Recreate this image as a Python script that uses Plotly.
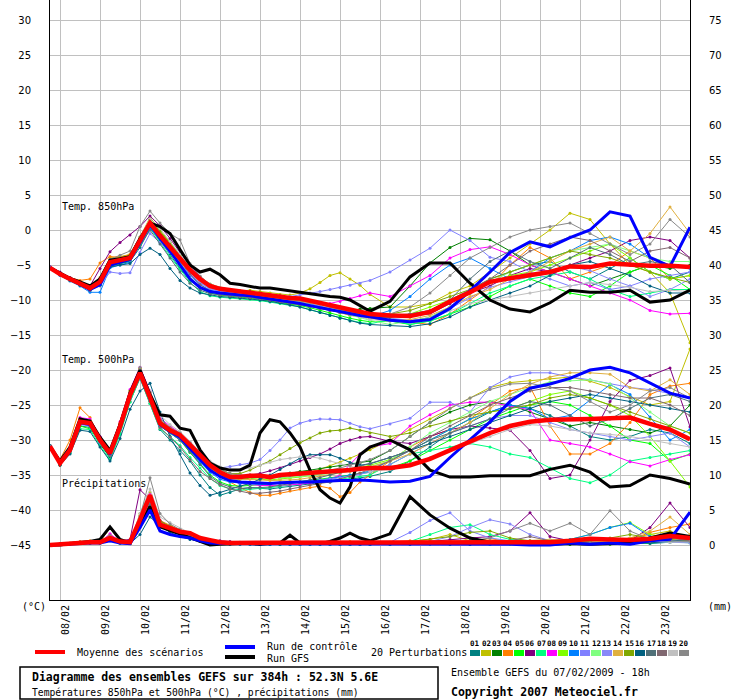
import datetime as dt
import plotly.graph_objects as go

# time axis: 6-hourly to 192h, then 12-hourly to 384h
start = dt.datetime(2009, 2, 7, 18)
hours = list(range(0, 193, 6)) + list(range(204, 385, 12))
day_labels = ['08/02', '09/02', '10/02', '11/02', '12/02', '13/02', '14/02', '15/02',
              '16/02', '17/02', '18/02', '19/02', '20/02', '21/02', '22/02', '23/02']

pert_colors = ['#008080', '#C0C000', '#008000', '#FF8000', '#00FF00', '#800080',
               '#00FF80', '#FF00FF', '#80FF00', '#0080FF', '#8080FF', '#80FF80',
               '#8888F8', '#E0B040', '#80A800', '#006080', '#507078', '#806870',
               '#C0C0C0', '#888888']

# ---- Temp 850hPa (degC)
t850_mean = [-5.4,-6.3,-7.0,-7.6,-8.3,-7.4,-4.6,-4.3,-4.0, -1.5,1.0,-0.8,-2.4,-4.0, -5.7,-7.0,-8.0,-8.4,-8.6,-8.8,-8.9,-9.1,-9.3,-9.5,-9.7,-9.8,-10.1,-10.4,-10.8,-11.1,-11.4,-11.7,-12.0, -12.2,-12.3,-11.7,-10.2,-8.9,-7.4,-6.9,-6.4,-6.0,-5.2,-5.3,-4.8,-5.0,-5.1,-5.1,-5.3]
t850_ctrl = [-5.4,-6.3,-7.0,-7.7,-8.5,-7.8,-5.0,-4.6,-4.2, -1.8,0.8,-1.2,-3.0,-5.0, -7.0,-8.2,-8.8,-9.0,-9.2,-9.3,-9.4,-9.6,-9.8,-10.0,-10.2,-10.5,-10.8,-11.1,-11.4,-11.7,-12.0,-12.2,-12.4, -12.9,-13.1,-12.8,-11.2,-8.7,-6.0,-3.2,-1.7,-2.4,-1.1,0.0,2.6,2.0,-3.9,-5.2,0.4]
t850_gfs = [-5.4,-6.2,-6.9,-7.4,-8.0,-7.0,-4.3,-4.1,-3.8, -1.2,1.0,0.5,-0.5,-2.8, -5.0,-6.0,-5.6,-6.4,-7.6,-7.8,-8.0,-8.3,-8.3,-8.5,-8.8,-9.0,-9.2,-9.3,-9.5,-9.6,-10.0,-10.8,-11.6, -10.2,-6.7,-4.7,-4.7,-7.6,-10.0,-11.3,-11.7,-10.4,-8.6,-8.9,-8.9,-8.6,-10.3,-10.0,-8.6]
t850_01 = [-5.3,-6.2,-7.1,-7.8,-8.5,-7.8,-5.2,-4.8,-4.5, -2.5,0.2,-1.5,-3.5,-5.5, -7.2,-8.2,-8.8,-9.0,-9.2,-9.3,-9.4,-9.6,-9.8,-10.0,-10.3,-10.6,-10.9,-11.2,-11.5,-11.8,-12.0,-12.3,-12.5, -12.8,-13.0,-12.5,-11.0,-9.0,-7.0,-6.0,-5.0,-4.5,-6.0,-7.0,-5.5,-4.0,-6.0,-7.0,-6.0]
t850_02 = [-5.4,-6.4,-7.0,-7.5,-8.0,-6.8,-4.0,-3.8,-3.5, -1.0,1.8,0.0,-1.8,-3.5, -5.5,-6.8,-7.8,-8.3,-8.5,-8.7,-8.6,-8.8,-9.0,-9.2,-9.3,-9.0,-8.4,-7.5,-6.5,-6.1,-7.0,-7.9,-9.2, -11.0,-11.0,-10.5,-9.0,-8.0,-6.0,-4.0,-2.0,0.0,2.4,1.5,-2.0,-5.0,-6.0,-9.0,-16.1]
t850_03 = [-5.5,-6.3,-6.9,-7.6,-8.2,-7.2,-4.4,-4.0,-3.6, -1.2,1.4,-0.5,-2.0,-3.8, -5.6,-7.1,-8.2,-8.6,-8.8,-9.0,-9.2,-9.4,-9.6,-9.8,-10.0,-10.0,-10.2,-10.5,-10.8,-11.2,-11.5,-11.3,-11.2, -11.0,-8.0,-4.7,-2.5,-1.2,-1.4,-3.0,-5.0,-6.0,-7.0,-8.0,-7.0,-6.0,-5.0,-5.5,-5.0]
t850_04 = [-5.3,-6.1,-6.8,-7.2,-7.0,-4.7,-3.8,-3.9,-3.5, -1.0,1.2,-0.6,-2.5,-4.2, -6.0,-7.4,-8.2,-8.6,-8.9,-9.1,-9.3,-9.5,-9.7,-9.9,-10.2,-10.4,-10.7,-11.0,-11.4,-11.8,-12.2,-12.4,-12.6, -12.8,-13.2,-13.5,-12.0,-10.0,-8.0,-5.0,-2.5,-4.0,-7.0,-6.0,-5.0,-3.0,-4.0,-7.0,-6.5]
t850_05 = [-5.5,-6.4,-7.2,-7.9,-8.6,-7.9,-5.0,-4.8,-4.4, -2.0,0.6,-1.0,-3.0,-5.0, -7.0,-8.3,-9.0,-9.3,-9.5,-9.6,-9.7,-9.9,-10.1,-10.3,-10.5,-10.8,-11.1,-11.5,-11.9,-12.3,-12.6,-12.9,-13.1, -13.0,-13.5,-13.0,-12.0,-11.0,-9.5,-8.0,-7.0,-8.0,-9.0,-9.5,-8.0,-6.0,-5.0,-6.5,-8.5]
t850_06 = [-5.2,-6.0,-6.8,-7.4,-8.0,-5.5,-3.1,-1.8,-0.7, 0.5,2.0,0.6,-1.2,-3.2, -5.0,-6.6,-7.8,-8.3,-8.5,-8.7,-8.8,-9.0,-9.2,-9.4,-9.6,-9.9,-10.2,-10.6,-11.0,-11.4,-11.7,-12.0,-12.1, -12.0,-12.2,-12.0,-10.5,-9.0,-8.0,-6.5,-5.5,-6.0,-5.0,-4.0,-3.0,-1.5,-1.0,-1.5,-4.0]
t850_07 = [-5.4,-6.3,-7.1,-7.7,-8.4,-7.6,-4.8,-4.5,-4.2, -2.0,0.4,-1.8,-3.8,-5.6, -7.5,-8.8,-9.4,-9.6,-9.7,-9.8,-9.9,-10.1,-10.3,-10.5,-10.7,-11.0,-11.4,-11.8,-12.2,-12.6,-12.9,-13.2,-13.4, -12.8,-13.5,-13.0,-12.0,-10.5,-9.0,-8.0,-7.0,-6.5,-6.0,-7.0,-8.5,-9.5,-9.0,-8.5,-8.5]
t850_08 = [-5.3,-6.2,-6.9,-7.5,-8.1,-6.9,-4.2,-4.1,-3.8, -1.3,1.1,-0.4,-2.2,-3.9, -5.8,-7.1,-8.0,-8.4,-8.6,-8.8,-9.0,-9.2,-9.5,-9.7,-9.9,-10.1,-10.4,-10.6,-10.5,-10.2,-9.8,-9.4,-9.0, -9.5,-8.0,-6.5,-4.0,-2.8,-2.4,-3.5,-5.0,-6.0,-7.0,-8.0,-9.0,-10.0,-11.5,-12.0,-11.9]
t850_09 = [-5.4,-6.3,-7.0,-7.6,-8.3,-7.3,-4.5,-4.2,-3.9, -1.4,1.3,-0.2,-1.8,-3.6, -5.4,-6.7,-7.7,-8.2,-8.5,-8.7,-8.9,-9.1,-9.3,-9.5,-9.7,-9.9,-10.3,-10.7,-11.1,-11.5,-11.9,-12.2,-12.4, -12.5,-12.0,-11.0,-10.0,-9.0,-7.5,-6.5,-6.0,-5.0,-4.0,-3.0,-2.0,-4.0,-6.0,-7.0,-6.5]
t850_10 = [-5.5,-6.5,-7.3,-8.0,-8.9,-8.9,-5.4,-5.0,-4.6, -2.0,0.3,-1.3,-3.0,-4.8, -6.5,-7.8,-8.6,-9.0,-9.2,-9.3,-9.4,-9.5,-9.6,-9.8,-10.0,-10.3,-10.6,-11.0,-11.3,-11.6,-11.9,-12.2,-12.4, -11.5,-9.5,-7.0,-5.0,-4.0,-5.5,-7.0,-6.0,-4.0,-3.0,-1.5,-1.0,-2.0,-4.0,-5.0,-5.5]
t850_11 = [-5.4,-6.4,-7.2,-7.8,-8.5,-8.0,-6.0,-6.2,-6.1, -3.2,-0.5,-1.8,-3.2,-4.8, -6.4,-7.6,-8.4,-8.8,-9.0,-9.2,-9.3,-9.4,-9.5,-9.6,-9.5,-9.3,-9.0,-8.8,-8.5,-8.2,-7.9,-7.6,-7.2, -6.0,-4.3,-2.6,0.0,-1.5,-3.9,-4.5,-6.0,-7.0,-8.0,-7.5,-8.5,-8.0,-7.0,-6.5,-6.0]
t850_12 = [-5.4,-6.2,-6.9,-7.5,-8.2,-7.1,-4.3,-4.0,-3.7, -1.0,1.5,-0.3,-2.0,-3.6, -5.3,-6.8,-7.9,-8.5,-8.8,-9.0,-9.2,-9.4,-9.6,-9.8,-10.0,-10.3,-10.6,-11.0,-11.4,-11.8,-12.2,-12.6,-12.9, -13.5,-13.0,-12.5,-11.0,-9.0,-7.5,-6.0,-5.0,-4.0,-3.0,-2.5,-2.0,-3.0,-4.0,-4.5,-4.5]
t850_13 = [-5.3,-6.3,-7.1,-7.7,-8.4,-7.5,-4.9,-4.6,-4.3, -1.8,0.8,-1.0,-2.6,-4.3, -6.2,-7.5,-8.4,-8.7,-8.9,-9.0,-9.1,-9.3,-9.5,-9.7,-9.9,-10.2,-10.5,-10.9,-11.3,-11.7,-12.0,-12.3,-12.5, -12.6,-12.9,-12.7,-11.2,-9.8,-8.2,-7.4,-6.7,-6.0,-5.2,-5.8,-7.0,-8.0,-9.5,-8.5,-7.0]
t850_14 = [-5.4,-6.3,-7.0,-7.6,-8.2,-7.2,-4.5,-4.2,-3.9, -1.3,1.2,-0.5,-2.2,-3.9, -5.7,-7.0,-8.0,-8.5,-8.7,-8.9,-9.1,-9.3,-9.5,-9.7,-9.9,-10.1,-10.4,-10.7,-11.1,-11.5,-11.9,-12.3,-12.6, -13.0,-12.8,-12.2,-11.0,-9.5,-8.5,-7.0,-6.0,-4.5,-3.0,-2.0,-1.0,-3.0,-0.5,3.3,-0.5]
t850_15 = [-5.4,-6.2,-6.9,-7.5,-8.1,-7.0,-4.3,-4.0,-3.7, -1.2,1.5,-0.2,-1.9,-3.6, -5.4,-6.8,-7.8,-8.3,-8.6,-8.8,-9.0,-9.2,-9.4,-9.6,-9.8,-10.0,-10.3,-10.6,-10.9,-11.2,-11.5,-11.8,-12.0, -12.0,-11.5,-10.5,-9.5,-8.5,-7.0,-6.0,-5.0,-4.0,-3.0,-3.5,-4.0,-5.0,-6.0,-6.8,-7.5]
t850_16 = [-5.5,-6.4,-7.2,-7.9,-8.6,-7.9,-5.3,-5.0,-4.8, -3.5,-2.6,-3.5,-5.5,-7.2, -8.3,-9.0,-9.3,-9.5,-9.6,-9.7,-9.8,-10.0,-10.2,-10.4,-10.7,-11.0,-11.4,-11.8,-12.2,-12.6,-13.0,-13.3,-13.5, -13.6,-13.8,-13.4,-12.4,-11.0,-10.0,-9.0,-8.0,-6.5,-5.0,-4.5,-5.5,-6.5,-8.0,-9.0,-9.0]
t850_17 = [-5.4,-6.3,-7.1,-7.7,-8.4,-7.6,-4.9,-4.6,-4.3, -2.2,0.0,-2.0,-4.0,-6.0, -7.6,-8.6,-9.1,-9.3,-9.4,-9.5,-9.6,-9.8,-10.0,-10.2,-10.4,-10.6,-10.9,-11.2,-11.5,-11.8,-12.0,-12.3,-12.5, -12.5,-12.0,-11.5,-10.0,-7.0,-4.5,-3.0,-4.5,-5.5,-4.0,-2.5,-3.5,-5.0,-4.5,-5.0,-7.5]
t850_18 = [-5.3,-6.2,-7.0,-7.7,-8.6,-7.7,-4.8,-4.4,-4.1, -1.6,0.9,-0.8,-2.5,-4.5, -6.3,-7.8,-8.7,-9.2,-9.4,-9.5,-9.6,-9.8,-10.0,-10.2,-10.4,-10.6,-10.9,-11.2,-11.5,-11.8,-12.1,-12.3,-12.4, -12.2,-12.0,-11.5,-10.0,-8.5,-7.0,-5.0,-3.0,-2.0,-1.0,-1.5,-3.0,-4.5,-3.0,-2.5,-4.0]
t850_19 = [-5.4,-6.3,-7.0,-7.6,-8.3,-7.3,-4.4,-4.2,-3.9, -1.0,1.6,0.2,-1.6,-3.4, -5.3,-6.7,-7.7,-8.2,-8.5,-8.7,-8.9,-9.1,-9.3,-9.5,-9.7,-10.0,-10.3,-10.7,-11.1,-11.6,-12.0,-12.4,-12.8, -13.0,-13.2,-12.6,-11.5,-10.5,-10.0,-9.5,-9.0,-8.5,-8.0,-7.5,-7.8,-8.2,-8.8,-8.6,-8.8]
t850_20 = [-5.4,-6.3,-7.0,-7.5,-8.1,-7.0,-4.2,-3.6,-3.0, 0.5,2.7,1.0,-0.5,-1.4, -4.8,-6.6,-7.8,-8.3,-8.6,-8.8,-9.0,-9.2,-9.4,-9.6,-9.8,-10.0,-10.3,-10.6,-11.0,-11.4,-11.8,-12.1,-12.3, -12.0,-11.0,-9.0,-6.5,-4.0,-2.5,-1.0,0.0,0.5,1.0,-0.5,-2.0,-3.5,-2.0,1.5,-1.0]

# ---- Temp 500hPa (degC)
t500_mean = [-30.9,-33.3,-31.4,-27.4,-27.6,-30.0,-31.9,-28.1,-23.6, -20.4,-23.9,-27.6,-28.6,-29.3, -30.7,-32.1,-33.6,-34.6,-35.3,-35.3,-35.1,-35.1,-35.3,-35.0,-34.9,-34.8,-34.8,-34.7,-34.6,-34.5,-34.3,-34.1,-34.0, -34.0,-33.6,-32.7,-31.5,-30.2,-29.0,-28.0,-27.4,-27.1,-27.1,-27.0,-26.9,-26.8,-27.7,-28.5,-29.9]
t500_ctrl = [-30.9,-33.3,-31.4,-27.5,-27.8,-30.1,-32.0,-28.2,-23.7, -20.5,-24.0,-27.8,-28.8,-29.6, -31.2,-32.8,-34.3,-35.2,-35.8,-36.0,-36.1,-36.2,-36.2,-36.1,-36.0,-36.0,-36.0,-35.9,-35.9,-35.8,-35.8,-35.7,-35.8, -36.0,-35.9,-35.2,-32.5,-30.0,-27.4,-24.5,-22.6,-22.0,-21.2,-20.0,-19.6,-20.4,-21.8,-23.3,-24.0]
t500_gfs = [-30.9,-33.0,-31.0,-27.0,-27.3,-29.6,-31.5,-27.8,-23.3, -20.0,-23.5,-26.4,-26.6,-28.3, -28.6,-31.4,-33.3,-34.0,-34.3,-34.3,-33.6,-29.0,-27.1,-27.4,-29.0,-31.0,-34.3,-37.1,-38.3,-39.0,-36.7,-32.1,-31.0, -30.0,-31.4,-34.3,-35.3,-35.3,-35.1,-35.1,-35.1,-34.2,-33.6,-34.6,-36.7,-36.5,-35.0,-35.5,-36.3]
t500_01 = [-30.8,-33.5,-31.8,-28.0,-28.2,-30.5,-32.6,-29.0,-24.5, -21.2,-24.8,-28.5,-30.0,-31.5, -33.0,-35.0,-36.8,-37.9,-37.5,-37.0,-36.8,-36.9,-37.0,-36.8,-36.6,-36.4,-36.3,-36.1,-36.0,-35.8,-35.6,-35.4,-35.2, -34.5,-33.0,-31.0,-29.0,-27.5,-26.0,-25.0,-25.5,-26.5,-28.0,-29.5,-30.0,-29.5,-28.5,-29.0,-30.5]
t500_02 = [-30.9,-33.2,-31.2,-27.0,-27.2,-29.8,-31.6,-27.6,-23.0, -19.8,-23.2,-27.0,-28.2,-29.0, -30.4,-31.8,-33.2,-34.2,-34.8,-35.0,-35.1,-35.2,-35.3,-35.4,-35.3,-35.0,-34.6,-34.2,-33.7,-33.2,-32.6,-32.0,-31.4, -30.0,-28.5,-27.0,-25.5,-24.0,-22.5,-21.8,-21.5,-21.2,-21.0,-21.6,-22.5,-23.8,-25.0,-24.5,-17.0]
t500_03 = [-30.9,-33.0,-31.3,-27.4,-28.0,-30.6,-32.4,-28.4,-23.8, -20.5,-24.2,-28.0,-28.9,-29.8, -31.5,-33.0,-34.4,-35.0,-35.5,-35.6,-35.5,-35.4,-35.2,-35.0,-34.7,-34.5,-34.3,-34.1,-33.9,-33.7,-33.5,-33.3,-33.0, -31.5,-29.5,-27.5,-26.0,-25.0,-24.5,-25.0,-26.0,-27.0,-28.0,-27.5,-28.0,-28.5,-29.0,-28.0,-25.0]
t500_04 = [-30.8,-32.8,-30.0,-25.4,-26.8,-29.6,-31.5,-27.5,-23.2, -20.2,-23.6,-27.3,-28.4,-29.2, -30.6,-32.2,-33.8,-35.0,-36.0,-36.8,-37.5,-37.9,-37.9,-37.6,-37.3,-37.0,-36.8,-36.6,-36.9,-38.1,-37.5,-36.0,-35.0, -33.0,-31.0,-29.5,-28.5,-27.0,-25.0,-23.0,-22.4,-28.0,-32.0,-32.0,-30.5,-27.5,-23.5,-22.3,-21.9]
t500_05 = [-31.0,-33.4,-31.5,-28.0,-28.4,-30.2,-32.2,-28.4,-23.9, -20.8,-24.4,-28.0,-29.0,-30.0, -31.8,-33.4,-35.0,-36.0,-36.5,-36.6,-36.5,-36.4,-36.3,-36.2,-36.1,-36.0,-35.8,-35.6,-35.4,-35.2,-35.0,-34.8,-34.6, -34.0,-33.0,-31.5,-30.0,-28.5,-27.0,-26.0,-25.0,-24.5,-25.0,-26.5,-28.0,-30.0,-30.5,-33.0,-32.0]
t500_06 = [-30.9,-33.1,-31.2,-27.2,-27.4,-29.6,-31.5,-27.8,-23.3, -20.1,-23.5,-27.2,-28.5,-29.4, -30.8,-32.2,-33.6,-34.5,-35.0,-35.2,-35.0,-34.8,-34.4,-34.0,-33.5,-33.0,-32.5,-32.0,-31.3,-30.5,-30.0,-29.6,-29.5, -30.2,-30.5,-29.5,-28.5,-28.0,-28.3,-28.6,-31.5,-35.5,-35.0,-30.0,-24.5,-21.5,-20.8,-19.7,-28.1]
t500_07 = [-30.9,-33.6,-31.9,-28.4,-28.5,-30.8,-32.8,-29.2,-24.6, -21.0,-24.8,-28.4,-29.5,-30.8, -32.5,-34.0,-35.5,-36.5,-37.0,-37.2,-37.0,-36.9,-36.8,-36.6,-36.4,-36.2,-36.1,-36.0,-35.8,-35.6,-35.4,-35.2,-35.0, -33.5,-32.0,-31.5,-31.0,-30.5,-31.0,-32.0,-32.5,-34.0,-35.5,-36.1,-35.0,-33.0,-32.5,-32.0,-31.5]
t500_08 = [-31.0,-33.2,-31.0,-26.8,-27.0,-29.5,-31.4,-27.4,-22.8, -19.6,-23.0,-26.9,-28.0,-29.0, -30.4,-32.0,-33.7,-35.0,-35.8,-36.2,-36.4,-36.5,-36.5,-36.5,-36.4,-36.3,-36.2,-36.0,-35.6,-35.0,-33.5,-32.0,-31.0, -30.5,-28.0,-26.4,-25.0,-24.6,-24.6,-25.2,-25.7,-30.0,-30.5,-31.0,-32.0,-33.1,-33.7,-32.8,-32.1]
t500_09 = [-30.9,-33.4,-31.6,-27.6,-27.8,-30.1,-32.0,-28.2,-23.7, -20.4,-24.0,-27.8,-28.8,-29.6, -31.0,-32.5,-34.0,-34.9,-35.4,-35.5,-35.5,-35.6,-35.7,-35.6,-35.5,-35.3,-35.1,-34.9,-34.7,-34.5,-34.2,-33.9,-33.6, -32.8,-31.5,-30.0,-28.5,-27.0,-26.0,-25.5,-24.5,-23.5,-23.0,-24.0,-25.0,-26.5,-29.5,-33.0,-36.7]
t500_10 = [-31.0,-33.3,-31.4,-27.6,-27.9,-30.4,-32.3,-28.5,-24.0, -20.8,-24.3,-28.0,-29.0,-30.0, -31.6,-33.2,-34.6,-35.6,-36.0,-36.2,-36.3,-36.3,-36.3,-36.2,-36.1,-36.0,-35.8,-35.7,-35.5,-35.3,-35.0,-34.8,-34.4, -33.0,-31.5,-30.0,-28.5,-27.0,-26.0,-25.0,-25.5,-27.0,-26.5,-24.3,-22.1,-23.5,-26.7,-30.0,-28.5]
t500_11 = [-30.8,-33.3,-31.5,-27.8,-28.0,-30.2,-32.0,-28.3,-23.8, -20.6,-24.1,-27.8,-28.8,-29.8, -31.0,-32.4,-33.5,-34.0,-33.8,-33.5,-33.3,-32.8,-31.5,-30.0,-28.3,-27.6,-27.2,-27.0,-27.0,-27.1,-27.6,-28.1,-28.4, -27.7,-26.9,-24.6,-24.6,-26.0,-22.5,-21.0,-20.4,-20.4,-21.0,-21.4,-22.0,-22.5,-22.8,-23.3,-23.9]
t500_12 = [-30.9,-33.2,-31.3,-27.3,-27.5,-29.9,-31.8,-28.0,-23.5, -20.3,-23.8,-27.5,-28.5,-29.2, -30.6,-32.0,-33.4,-34.4,-35.0,-35.2,-35.2,-35.3,-35.4,-35.4,-35.3,-35.2,-35.1,-35.0,-34.8,-34.6,-34.4,-34.1,-33.8, -33.0,-31.0,-29.0,-27.5,-26.0,-24.5,-23.5,-22.5,-21.7,-21.5,-21.4,-22.0,-24.0,-26.0,-28.0,-29.0]
t500_13 = [-31.0,-33.4,-31.6,-27.7,-27.9,-30.3,-32.1,-28.4,-23.9, -20.6,-24.2,-27.9,-28.9,-29.7, -31.3,-32.8,-34.3,-35.3,-35.8,-36.0,-36.0,-36.1,-36.2,-36.2,-36.1,-36.0,-35.9,-35.8,-35.6,-35.4,-35.2,-34.9,-34.6, -33.5,-32.0,-30.5,-29.0,-28.0,-27.0,-26.5,-26.5,-27.5,-28.5,-29.0,-29.5,-30.0,-29.5,-29.0,-31.0]
t500_14 = [-30.9,-33.3,-31.4,-27.3,-27.6,-30.0,-31.9,-28.1,-23.6, -20.3,-23.9,-27.6,-28.6,-29.4, -30.8,-32.2,-33.7,-34.7,-35.4,-35.6,-35.6,-35.7,-35.8,-35.8,-35.7,-35.6,-35.4,-35.2,-35.0,-34.8,-34.5,-34.2,-33.9, -33.0,-32.0,-30.5,-29.0,-27.5,-25.5,-23.5,-22.0,-21.0,-20.4,-20.4,-20.6,-22.5,-23.0,-21.4,-23.5]
t500_15 = [-30.9,-33.2,-31.1,-27.0,-27.3,-29.7,-31.7,-27.8,-23.0, -19.8,-23.5,-27.3,-28.3,-29.1, -30.5,-31.9,-33.3,-34.2,-34.8,-34.8,-34.3,-33.6,-33.0,-32.1,-31.2,-30.4,-29.7,-29.0,-28.7,-28.6,-28.3,-28.6,-29.0, -29.5,-29.0,-28.0,-27.3,-26.5,-26.0,-25.5,-25.0,-24.0,-23.5,-24.0,-25.0,-26.0,-27.0,-28.0,-29.0]
t500_16 = [-30.8,-33.6,-32.0,-28.6,-28.8,-31.0,-33.0,-29.8,-25.6, -23.0,-21.9,-26.0,-29.5,-32.0, -34.7,-36.5,-37.9,-37.5,-37.0,-36.6,-36.2,-35.6,-35.0,-34.2,-33.4,-32.6,-32.1,-32.1,-32.1,-32.6,-33.2,-33.6,-33.4, -32.5,-31.5,-30.5,-29.5,-28.5,-27.5,-26.5,-25.5,-24.5,-24.0,-23.5,-24.0,-24.5,-25.0,-25.5,-26.0]
t500_17 = [-30.9,-33.3,-31.5,-27.5,-27.7,-30.1,-32.1,-28.3,-23.8, -20.5,-24.1,-27.8,-28.9,-30.0, -31.7,-33.5,-35.2,-36.2,-36.7,-36.9,-36.9,-36.8,-36.7,-36.5,-36.3,-36.0,-35.7,-35.4,-35.0,-34.6,-34.2,-33.8,-33.4, -32.5,-31.5,-30.0,-29.0,-28.0,-27.0,-25.5,-24.5,-25.0,-26.5,-28.0,-27.0,-25.5,-24.0,-23.5,-24.5]
t500_18 = [-30.9,-33.4,-31.6,-27.7,-27.8,-30.2,-32.2,-28.4,-24.0, -20.8,-24.5,-28.2,-29.6,-31.0, -32.8,-34.5,-35.5,-36.4,-37.0,-37.3,-37.6,-37.6,-37.5,-37.3,-37.0,-36.7,-36.4,-36.2,-36.0,-35.6,-35.2,-34.7,-34.2, -33.0,-31.5,-29.5,-28.0,-26.5,-25.0,-24.0,-23.0,-22.5,-22.5,-23.0,-23.5,-24.0,-24.0,-25.0,-26.5]
t500_19 = [-30.9,-33.2,-31.3,-27.3,-27.5,-29.9,-31.8,-28.0,-23.4, -20.0,-23.0,-26.4,-27.8,-28.8, -30.2,-31.7,-33.0,-33.8,-34.2,-34.2,-34.0,-33.6,-33.2,-32.8,-32.6,-32.4,-32.4,-32.6,-33.0,-33.4,-33.8,-34.2,-34.5, -34.2,-33.5,-32.5,-31.5,-30.5,-29.5,-28.5,-27.8,-28.0,-28.5,-29.0,-29.2,-29.5,-30.0,-30.5,-31.0]
t500_20 = [-30.9,-33.3,-31.3,-27.2,-27.4,-29.8,-31.7,-27.8,-23.2, -19.6,-23.2,-27.0,-28.2,-29.0, -30.4,-31.8,-33.2,-34.2,-34.8,-35.0,-35.0,-35.1,-35.2,-35.2,-35.1,-35.0,-34.8,-34.6,-34.3,-34.0,-33.6,-33.2,-32.8, -31.5,-29.5,-27.5,-25.5,-24.0,-22.8,-22.0,-21.9,-22.5,-23.0,-24.5,-26.0,-25.0,-23.0,-22.5,-24.0]

# ---- Precipitation (mm)
prec_mean = [0.0,0.1,0.2,0.4,0.4,0.4,1.0,0.5,0.4, 3.6,7.1,2.9,2.4,1.9, 1.7,1.0,0.7,0.4,0.3,0.3,0.3,0.3,0.3,0.3,0.3,0.3,0.3,0.3,0.3,0.3,0.3,0.3,0.3, 0.3,0.3,0.3,0.3,0.3,0.3,0.3,0.4,0.4,0.6,0.9,0.8,0.7,0.9,1.3,1.0]
prec_ctrl = [0.0,0.1,0.2,0.3,0.3,0.3,0.6,0.3,0.2, 2.5,5.0,2.0,1.5,1.2, 1.0,0.6,0.3,0.2,0.2,0.2,0.2,0.1,0.1,0.1,0.1,0.1,0.1,0.1,0.1,0.1,0.1,0.1,0.1, 0.1,0.1,0.1,0.1,0.1,0.2,0.1,0.0,0.0,0.3,0.1,0.3,0.1,0.6,0.8,4.7]
prec_gfs = [0.0,0.0,0.2,0.3,0.5,0.8,2.6,0.8,0.3, 2.8,5.5,2.6,2.1,1.6, 1.0,0.5,0.0,0.1,0.2,0.2,0.2,0.1,0.2,0.3,1.4,0.3,0.2,0.2,0.5,1.0,1.7,1.0,0.6, 1.6,6.9,4.3,2.4,1.0,0.4,0.2,0.1,0.1,0.2,0.1,0.2,0.3,1.0,1.7,1.2]
prec_01 = [0.0,0.1,0.2,0.3,0.4,0.3,0.8,0.3,0.2, 3.0,5.5,3.2,2.2,1.6, 1.2,0.8,0.5,0.3,0.2,0.2,0.1,0.1,0.1,0.1,0.1,0.1,0.1,0.1,0.1,0.1,0.1,0.1,0.1, 0.1,0.1,0.1,0.2,0.1,0.1,0.2,0.1,0.2,0.1,0.2,0.3,0.5,0.2,0.4,0.6]
prec_02 = [0.0,0.1,0.2,0.4,0.5,0.5,1.5,0.5,0.3, 4.5,7.5,3.0,2.5,2.0, 1.8,1.0,0.5,0.3,0.2,0.3,0.2,0.2,0.2,0.2,0.3,0.2,0.2,0.3,0.3,0.4,0.5,0.3,0.2, 0.3,0.5,0.8,1.5,0.6,0.3,0.2,0.3,0.5,0.2,0.3,0.5,1.0,1.5,2.0,1.0]
prec_03 = [0.0,0.1,0.1,0.3,0.3,0.4,1.2,0.4,0.2, 3.5,6.5,2.6,2.0,1.8, 1.5,0.8,0.4,0.2,0.2,0.2,0.2,0.1,0.1,0.1,0.1,0.1,0.2,0.2,0.1,0.1,0.1,0.1,0.1, 0.2,0.3,0.2,0.1,0.1,0.2,0.3,0.2,0.1,0.1,0.2,0.1,0.2,0.3,0.6,0.4]
prec_04 = [0.0,0.2,0.3,0.5,0.6,0.5,2.4,0.6,0.4, 4.0,7.0,3.5,2.8,2.2, 1.6,0.9,0.6,0.4,0.3,0.3,0.2,0.2,0.2,0.2,0.2,0.2,0.2,0.2,0.2,0.2,0.2,0.2,0.2, 0.4,0.6,0.5,0.3,0.6,0.9,0.5,0.4,0.3,0.5,0.4,0.3,0.7,1.8,2.5,3.0]
prec_05 = [0.0,0.1,0.2,0.3,0.3,0.3,0.9,0.3,0.3, 3.2,6.0,3.0,2.2,1.6, 1.3,0.8,0.4,0.2,0.1,0.1,0.1,0.1,0.1,0.1,0.1,0.1,0.1,0.1,0.1,0.1,0.1,0.1,0.1, 0.1,0.2,0.3,0.4,0.2,0.1,0.1,0.2,0.3,0.4,0.3,0.2,0.3,0.5,0.4,0.5]
prec_06 = [0.0,0.1,0.2,0.4,0.4,0.5,1.0,0.6,0.8, 7.9,6.5,3.5,2.5,1.9, 1.4,0.9,0.7,0.6,0.5,0.4,0.3,0.3,0.2,0.2,0.2,0.2,0.2,0.2,0.3,0.3,0.3,0.3,0.3, 0.3,0.3,0.5,0.8,1.0,1.2,2.0,4.6,1.2,0.6,0.4,0.3,0.6,2.5,6.0,2.5]
prec_07 = [0.0,0.1,0.2,0.3,0.3,0.3,0.7,0.3,0.3, 3.0,6.0,3.2,2.6,2.0, 1.5,0.9,0.5,0.3,0.2,0.2,0.2,0.2,0.2,0.2,0.2,0.2,0.2,0.2,0.2,0.2,0.2,0.2,0.2, 0.3,0.5,1.5,2.5,2.9,1.5,0.8,0.5,0.3,0.3,0.2,0.3,0.4,0.3,0.5,0.6]
prec_08 = [0.0,0.1,0.2,0.4,0.4,0.4,1.6,0.5,0.4, 4.0,7.2,3.0,2.4,1.8, 1.4,0.8,0.5,0.3,0.2,0.2,0.2,0.2,0.2,0.2,0.2,0.2,0.2,0.2,0.2,0.2,0.2,0.2,0.2, 0.2,0.2,0.3,0.4,0.3,0.2,0.4,0.6,0.4,0.3,0.2,0.2,0.3,0.4,0.5,0.9]
prec_09 = [0.0,0.1,0.2,0.3,0.4,0.4,1.0,0.4,0.3, 3.5,6.8,2.8,2.2,1.7, 1.3,0.8,0.5,0.3,0.2,0.2,0.2,0.2,0.2,0.2,0.2,0.2,0.2,0.2,0.2,0.2,0.2,0.2,0.2, 0.2,0.3,0.4,0.3,0.2,0.3,0.4,0.5,0.6,0.8,1.5,2.5,3.2,1.5,1.0,0.8]
prec_10 = [0.0,0.1,0.1,0.3,0.3,0.3,0.6,0.3,0.2, 2.5,5.2,2.8,2.0,1.5, 1.0,0.6,0.3,0.2,0.1,0.1,0.1,0.1,0.1,0.2,0.1,0.1,0.1,0.1,0.1,0.1,0.1,0.1,0.1, 0.1,0.2,0.3,0.2,0.2,0.1,0.2,0.3,0.5,0.8,1.5,2.5,3.1,1.2,0.6,0.4]
prec_11 = [0.0,0.1,0.2,0.3,0.3,0.3,0.8,0.3,0.3, 3.0,6.2,3.0,2.4,1.9, 1.5,0.9,0.6,0.4,0.3,0.3,0.3,0.3,0.3,0.3,0.3,0.3,0.3,0.2,0.2,0.2,0.2,0.2,0.2, 0.4,1.8,3.5,4.6,2.0,1.0,0.6,0.4,0.3,0.3,0.3,0.4,0.5,0.6,0.5,0.4]
prec_12 = [0.0,0.1,0.2,0.3,0.3,0.4,1.1,0.4,0.3, 3.8,6.6,3.0,2.4,1.8, 1.4,0.8,0.5,0.3,0.2,0.2,0.2,0.2,0.2,0.2,0.2,0.2,0.2,0.2,0.2,0.2,0.2,0.2,0.2, 0.2,0.3,0.3,0.3,0.2,0.3,0.4,0.5,0.4,0.6,0.3,0.4,0.8,0.6,0.5,0.3]
prec_13 = [0.0,0.1,0.2,0.3,0.4,0.4,0.9,0.4,0.3, 3.2,6.0,3.1,2.5,1.9, 1.5,0.9,0.5,0.3,0.2,0.2,0.2,0.2,0.2,0.2,0.2,0.2,0.2,0.2,0.2,0.2,0.2,0.2,0.2, 0.2,0.3,0.5,1.2,2.5,3.6,3.0,1.5,0.6,0.4,0.3,0.3,0.4,0.5,0.4,0.3]
prec_14 = [0.0,0.1,0.2,0.4,0.4,0.4,1.2,0.4,0.3, 3.6,6.4,3.2,2.6,2.0, 1.6,0.9,0.5,0.3,0.2,0.2,0.2,0.2,0.2,0.2,0.2,0.2,0.2,0.2,0.2,0.2,0.2,0.2,0.2, 0.2,0.2,0.3,0.2,0.3,0.4,0.5,0.6,0.8,0.5,0.4,0.6,1.0,2.0,4.0,1.5]
prec_15 = [0.0,0.1,0.2,0.4,0.5,0.5,1.3,0.5,0.4, 4.2,7.0,3.4,2.7,2.0, 1.6,1.0,0.6,0.4,0.3,0.3,0.3,0.3,0.3,0.3,0.3,0.3,0.3,0.3,0.3,0.3,0.3,0.3,0.3, 0.3,0.5,0.8,1.2,1.8,2.0,1.0,0.6,0.4,0.5,0.6,1.0,1.5,1.0,0.8,0.6]
prec_16 = [0.0,0.1,0.1,0.2,0.3,0.3,0.6,0.3,0.2, 1.5,4.0,2.8,1.8,1.2, 0.8,0.5,0.3,0.2,0.1,0.1,0.1,0.1,0.1,0.1,0.1,0.1,0.1,0.1,0.1,0.1,0.1,0.1,0.1, 0.1,0.1,0.2,0.1,0.1,0.2,0.2,0.3,0.2,0.3,0.2,0.3,0.4,0.3,0.6,0.8]
prec_17 = [0.0,0.1,0.2,0.3,0.3,0.3,0.8,0.3,0.3, 3.0,5.8,2.9,2.2,1.6, 1.2,0.7,0.4,0.2,0.2,0.2,0.2,0.2,0.2,0.2,0.2,0.2,0.2,0.2,0.2,0.2,0.2,0.2,0.2, 0.2,0.2,0.3,0.4,0.3,0.2,0.3,0.2,0.3,0.4,0.3,0.2,0.4,0.5,1.5,0.8]
prec_18 = [0.0,0.1,0.2,0.3,0.3,0.4,0.9,0.4,0.3, 3.4,6.2,3.0,2.3,1.7, 1.2,0.7,0.4,0.2,0.2,0.2,0.2,0.2,0.2,0.2,0.2,0.2,0.2,0.2,0.2,0.2,0.2,0.2,0.2, 0.2,0.3,0.4,0.5,0.4,0.3,0.6,1.2,0.6,0.4,0.3,0.4,0.5,0.8,1.0,0.6]
prec_19 = [0.0,0.1,0.2,0.4,0.4,0.5,1.3,0.5,0.4, 4.5,8.0,4.0,3.2,2.4, 1.7,1.0,0.6,0.4,0.3,0.3,0.3,0.3,0.3,0.3,0.3,0.3,0.3,0.3,0.3,0.3,0.3,0.3,0.3, 0.3,0.3,0.4,0.5,0.4,0.3,0.4,0.5,0.6,0.4,0.3,0.4,0.5,0.6,0.4,0.5]
prec_20 = [0.0,0.1,0.2,0.4,0.4,0.4,1.4,0.5,0.4, 4.0,9.6,4.5,3.0,2.2, 1.6,1.0,0.6,0.4,0.3,0.3,0.3,0.3,0.3,0.3,0.3,0.3,0.3,0.3,0.3,0.3,0.3,0.3,0.3, 0.3,0.3,0.4,0.5,0.6,1.0,2.0,3.1,2.0,3.1,1.5,4.9,2.0,0.8,0.6,0.5]

t850_perts = [t850_01, t850_02, t850_03, t850_04, t850_05, t850_06, t850_07, t850_08, t850_09, t850_10,
              t850_11, t850_12, t850_13, t850_14, t850_15, t850_16, t850_17, t850_18, t850_19, t850_20]
t500_perts = [t500_01, t500_02, t500_03, t500_04, t500_05, t500_06, t500_07, t500_08, t500_09, t500_10,
              t500_11, t500_12, t500_13, t500_14, t500_15, t500_16, t500_17, t500_18, t500_19, t500_20]
prec_perts = [prec_01, prec_02, prec_03, prec_04, prec_05, prec_06, prec_07, prec_08, prec_09, prec_10,
              prec_11, prec_12, prec_13, prec_14, prec_15, prec_16, prec_17, prec_18, prec_19, prec_20]

for s in t850_perts + t500_perts + prec_perts + [t850_mean, t850_ctrl, t850_gfs, t500_mean,
                                                 t500_ctrl, t500_gfs, prec_mean, prec_ctrl, prec_gfs]:
    assert len(s) == len(hours), len(s)

times = [start + dt.timedelta(hours=h) for h in hours]
day_ticks = [dt.datetime(2009, 2, 8) + dt.timedelta(days=d) for d in range(16)]

MONO = 'DejaVu Sans Mono'


def px(x):
    return (x - 50) / 640.0


def py(y):
    return 1 - y / 600.0


fig = go.Figure()

# perturbations first, then GFS, control and mean on top
for series_set, yax in [(t850_perts, 'y'), (t500_perts, 'y'), (prec_perts, 'y2')]:
    for vals, col in zip(series_set, pert_colors):
        fig.add_trace(go.Scatter(x=times, y=vals, yaxis=yax, mode='lines+markers',
                                 line={'color': col, 'width': 1},
                                 marker={'color': col, 'size': 3},
                                 showlegend=False, hoverinfo='x+y'))

for vals, yax in [(t850_gfs, 'y'), (t500_gfs, 'y'), (prec_gfs, 'y2')]:
    fig.add_trace(go.Scatter(x=times, y=vals, yaxis=yax, mode='lines',
                             line={'color': '#000000', 'width': 3}, showlegend=False))
for vals, yax in [(t850_ctrl, 'y'), (t500_ctrl, 'y'), (prec_ctrl, 'y2')]:
    fig.add_trace(go.Scatter(x=times, y=vals, yaxis=yax, mode='lines',
                             line={'color': '#0000FF', 'width': 3}, showlegend=False))
for vals, yax in [(t850_mean, 'y'), (t500_mean, 'y'), (prec_mean, 'y2')]:
    fig.add_trace(go.Scatter(x=times, y=vals, yaxis=yax, mode='lines',
                             line={'color': '#FF0000', 'width': 4.5}, showlegend=False))

annotations = []


def text(x, y, s, size=10, bold=False, anchor='left'):
    if bold:
        s = '<b>' + s + '</b>'
    annotations.append(dict(x=px(x), y=py(y), xref='paper', yref='paper', text=s,
                            showarrow=False, xanchor=anchor, yanchor='middle',
                            font={'family': MONO, 'size': size, 'color': 'black'}))


text(60, 207, 'Temp. 850hPa')
text(60, 359, 'Temp. 500hPa')
text(60, 483, 'Précipitations')
text(20, 606, '(°C)')
text(706, 606, '(mm)')
text(75, 652, 'Moyenne des scénarios')
text(265, 646, 'Run de contrôle')
text(265, 658, 'Run GFS')
text(369, 652, '20 Perturbations')
text(30, 677, 'Diagramme des ensembles GEFS sur 384h : 52.3N 5.6E', size=11.5, bold=True)
text(30, 692, 'Températures 850hPa et 500hPa (°C) , précipitations (mm)', size=9.7)
text(449, 672, 'Ensemble GEFS du 07/02/2009 - 18h', size=10)
text(449, 692, 'Copyright 2007 Meteociel.fr', size=11.5, bold=True)

shapes = []
for k, col in enumerate(pert_colors):
    x0 = 470 + 11 * k
    shapes.append(dict(type='rect', xref='paper', yref='paper', x0=px(x0), x1=px(x0 + 10),
                       y0=py(656), y1=py(650), fillcolor=col, line={'width': 0}))
    text(x0 + 5, 643, '%02d' % (k + 1), size=7.5, bold=True, anchor='center')

for x0, x1, y, col in [(35, 65, 652, '#FF0000'), (225, 255, 647, '#0000FF'), (225, 255, 657, '#000000')]:
    shapes.append(dict(type='line', xref='paper', yref='paper', x0=px(x0), x1=px(x1),
                       y0=py(y), y1=py(y), line={'color': col, 'width': 4}))
shapes.append(dict(type='rect', xref='paper', yref='paper', x0=px(20), x1=px(438),
                   y0=py(699), y1=py(667), line={'color': 'black', 'width': 1.5}))

fig.update_layout(
    width=740, height=700,
    margin={'l': 50, 'r': 50, 't': 0, 'b': 100},
    plot_bgcolor='white', paper_bgcolor='white',
    showlegend=False,
    annotations=annotations,
    shapes=shapes,
    xaxis={'type': 'date',
           'range': [start, start + dt.timedelta(hours=384)],
           'tickvals': day_ticks, 'ticktext': day_labels,
           'tickangle': -90, 'ticks': '', 'ticklabelshift': 6,
           'tickfont': {'family': MONO, 'size': 10, 'color': 'black'},
           'showgrid': True, 'gridcolor': '#C0C0C0', 'gridwidth': 1,
           'showline': True, 'linecolor': 'black', 'linewidth': 1,
           'zeroline': False},
    yaxis={'range': [-45 - 55 / 7.0, 30 + 20 / 7.0],
           'tickvals': list(range(-45, 31, 5)), 'ticks': '',
           'tickfont': {'family': 'DejaVu Sans', 'size': 10, 'color': 'black'},
           'ticklabelstandoff': 16,
           'showgrid': True, 'gridcolor': '#C0C0C0', 'gridwidth': 1,
           'showline': True, 'linecolor': 'black', 'linewidth': 1,
           'zeroline': False},
    yaxis2={'range': [-55 / 7.0, 75 + 20 / 7.0], 'overlaying': 'y', 'side': 'right',
            'tickvals': list(range(0, 76, 5)), 'ticks': '',
            'tickfont': {'family': 'DejaVu Sans', 'size': 10, 'color': 'black'},
            'ticklabelstandoff': 16,
            'showgrid': False, 'showline': True, 'linecolor': 'black', 'linewidth': 1,
            'zeroline': False},
)

# the page's default body margin would shift the figure; remove it
fig.write_html('out.html', config={'displayModeBar': False},
               post_script="document.body.style.margin='0';")
